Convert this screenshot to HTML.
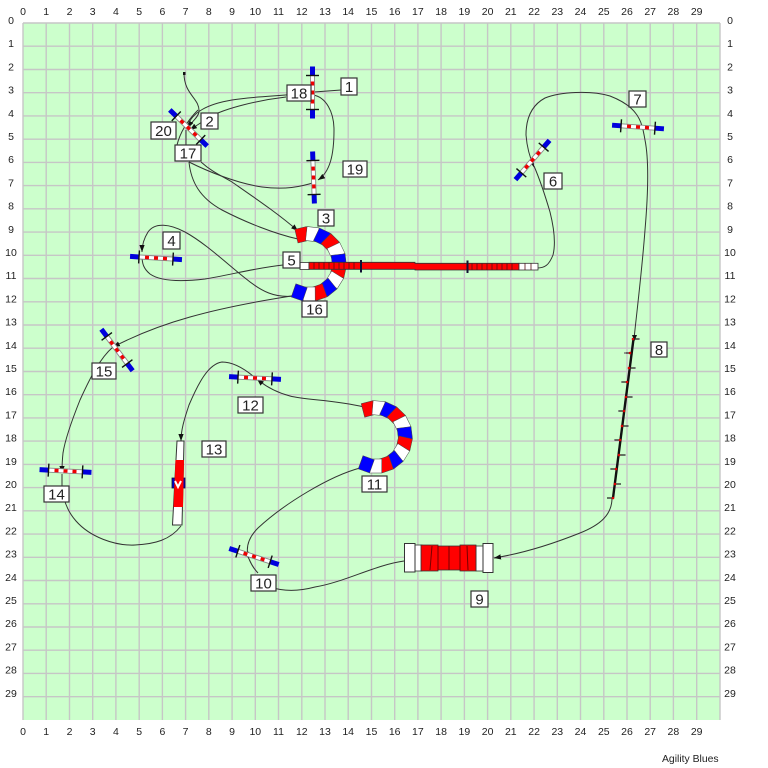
<!DOCTYPE html>
<html>
<head>
<meta charset="utf-8">
<title>Agility Blues</title>
<style>
html,body{margin:0;padding:0;background:#fff;width:768px;height:768px;overflow:hidden}
svg{display:block}
text{font-family:"Liberation Sans",sans-serif}
.ax text{font-size:10.5px;fill:#222;text-anchor:middle}
.cv{fill:none;stroke:#333;stroke-width:1}
.lb rect{fill:#fff;stroke:#333;stroke-width:1.2}
.lb text{font-size:15px;fill:#222;text-anchor:middle}
.seg rect{stroke:#444;stroke-width:.5}
.r{fill:#f00}.w{fill:#fff}.b{fill:#00f}
</style>
</head>
<body>
<svg width="768" height="768" viewBox="0 0 768 768" xmlns="http://www.w3.org/2000/svg">
<defs>
<marker id="a" viewBox="0 0 8 6" refX="8" refY="3" markerWidth="7" markerHeight="6" markerUnits="userSpaceOnUse" orient="auto"><path d="M0 0L8 3L0 6z" fill="#111"/></marker>
<g id="j">
<line x1="-26" x2="-17" stroke="#00d" stroke-width="5"/>
<line x1="17" x2="26" stroke="#00d" stroke-width="5"/>
<line x1="-17" x2="17" stroke="#888" stroke-width="5"/>
<line x1="-17" x2="17" stroke="#fff" stroke-width="3.2"/>
<line x1="-11" x2="-7" stroke="#e00" stroke-width="3.4"/>
<line x1="-2" x2="2" stroke="#e00" stroke-width="3.4"/>
<line x1="7" x2="11" stroke="#e00" stroke-width="3.4"/>
<line x1="-17" x2="-17" y1="-6.5" y2="6.5" stroke="#111" stroke-width="1.4"/>
<line x1="17" x2="17" y1="-6.5" y2="6.5" stroke="#111" stroke-width="1.4"/>
</g>
</defs>
<rect width="768" height="768" fill="#fff"/>
<rect x="23" y="23" width="697" height="697" fill="#ccffcc"/>
<path fill="none" stroke="#c6c6c6" stroke-width="1.4" d="M23 23V720M46.2 23V720M69.5 23V720M92.7 23V720M115.9 23V720M139.2 23V720M162.4 23V720M185.6 23V720M208.8 23V720M232.1 23V720M255.3 23V720M278.5 23V720M301.8 23V720M325 23V720M348.2 23V720M371.5 23V720M394.7 23V720M417.9 23V720M441.1 23V720M464.4 23V720M487.6 23V720M510.8 23V720M534.1 23V720M557.3 23V720M580.5 23V720M603.8 23V720M627 23V720M650.2 23V720M673.4 23V720M696.7 23V720M720 23V720M23 23H720M23 46.2H720M23 69.5H720M23 92.7H720M23 115.9H720M23 139.2H720M23 162.4H720M23 185.6H720M23 208.8H720M23 232.1H720M23 255.3H720M23 278.5H720M23 301.8H720M23 325H720M23 348.2H720M23 371.5H720M23 394.7H720M23 417.9H720M23 441.1H720M23 464.4H720M23 487.6H720M23 510.8H720M23 534.1H720M23 557.3H720M23 580.5H720M23 603.8H720M23 627H720M23 650.2H720M23 673.4H720M23 696.7H720"/>

<g class="ax">
<text x="23" y="15">0</text><text x="46.2" y="15">1</text><text x="69.5" y="15">2</text><text x="92.7" y="15">3</text><text x="115.9" y="15">4</text><text x="139.2" y="15">5</text><text x="162.4" y="15">6</text><text x="185.6" y="15">7</text><text x="208.8" y="15">8</text><text x="232.1" y="15">9</text><text x="255.3" y="15">10</text><text x="278.5" y="15">11</text><text x="301.8" y="15">12</text><text x="325" y="15">13</text><text x="348.2" y="15">14</text><text x="371.5" y="15">15</text><text x="394.7" y="15">16</text><text x="417.9" y="15">17</text><text x="441.1" y="15">18</text><text x="464.4" y="15">19</text><text x="487.6" y="15">20</text><text x="510.8" y="15">21</text><text x="534.1" y="15">22</text><text x="557.3" y="15">23</text><text x="580.5" y="15">24</text><text x="603.8" y="15">25</text><text x="627" y="15">26</text><text x="650.2" y="15">27</text><text x="673.4" y="15">28</text><text x="696.7" y="15">29</text>
<text x="23" y="735">0</text><text x="46.2" y="735">1</text><text x="69.5" y="735">2</text><text x="92.7" y="735">3</text><text x="115.9" y="735">4</text><text x="139.2" y="735">5</text><text x="162.4" y="735">6</text><text x="185.6" y="735">7</text><text x="208.8" y="735">8</text><text x="232.1" y="735">9</text><text x="255.3" y="735">10</text><text x="278.5" y="735">11</text><text x="301.8" y="735">12</text><text x="325" y="735">13</text><text x="348.2" y="735">14</text><text x="371.5" y="735">15</text><text x="394.7" y="735">16</text><text x="417.9" y="735">17</text><text x="441.1" y="735">18</text><text x="464.4" y="735">19</text><text x="487.6" y="735">20</text><text x="510.8" y="735">21</text><text x="534.1" y="735">22</text><text x="557.3" y="735">23</text><text x="580.5" y="735">24</text><text x="603.8" y="735">25</text><text x="627" y="735">26</text><text x="650.2" y="735">27</text><text x="673.4" y="735">28</text><text x="696.7" y="735">29</text>
<text x="11" y="24">0</text><text x="11" y="47.2">1</text><text x="11" y="70.4">2</text><text x="11" y="93.6">3</text><text x="11" y="116.8">4</text><text x="11" y="140">5</text><text x="11" y="163.2">6</text><text x="11" y="186.4">7</text><text x="11" y="209.6">8</text><text x="11" y="232.8">9</text><text x="11" y="256">10</text><text x="11" y="279.2">11</text><text x="11" y="302.4">12</text><text x="11" y="325.6">13</text><text x="11" y="348.8">14</text><text x="11" y="372">15</text><text x="11" y="395.2">16</text><text x="11" y="418.4">17</text><text x="11" y="441.6">18</text><text x="11" y="464.8">19</text><text x="11" y="488">20</text><text x="11" y="511.2">21</text><text x="11" y="534.4">22</text><text x="11" y="557.6">23</text><text x="11" y="580.8">24</text><text x="11" y="604">25</text><text x="11" y="627.2">26</text><text x="11" y="650.4">27</text><text x="11" y="673.6">28</text><text x="11" y="696.8">29</text>
<text x="730" y="24">0</text><text x="730" y="47.2">1</text><text x="730" y="70.4">2</text><text x="730" y="93.6">3</text><text x="730" y="116.8">4</text><text x="730" y="140">5</text><text x="730" y="163.2">6</text><text x="730" y="186.4">7</text><text x="730" y="209.6">8</text><text x="730" y="232.8">9</text><text x="730" y="256">10</text><text x="730" y="279.2">11</text><text x="730" y="302.4">12</text><text x="730" y="325.6">13</text><text x="730" y="348.8">14</text><text x="730" y="372">15</text><text x="730" y="395.2">16</text><text x="730" y="418.4">17</text><text x="730" y="441.6">18</text><text x="730" y="464.8">19</text><text x="730" y="488">20</text><text x="730" y="511.2">21</text><text x="730" y="534.4">22</text><text x="730" y="557.6">23</text><text x="730" y="580.8">24</text><text x="730" y="604">25</text><text x="730" y="627.2">26</text><text x="730" y="650.4">27</text><text x="730" y="673.6">28</text><text x="730" y="696.8">29</text>
</g>
<text x="662" y="762" font-size="10.4" fill="#222">Agility Blues</text>

<!-- connectors -->
<g class="cv">
<path d="M184 73C184 95 200 98 199 112C198 118 191 122 188 128" marker-end="url(#a)"/>
<rect x="183" y="72" width="2.5" height="3" fill="#111" stroke="none"/>
<path d="M187 127C192 112 208 104 232 100C255 96 290 96 312 92"/>
<path d="M286 97C260 100 225 108 210 117C202 122 197 125 190 130" marker-end="url(#a)"/>
<path d="M314 92L341 90"/>
<path d="M177 145C180 133 186 122 198 110"/>
<path d="M186 145L186 130"/>
<path d="M313 95C326 97 334 112 334 130C334 155 330 172 318 180" marker-end="url(#a)"/>
<path d="M189 162C205 170 235 183 262 187C285 190 300 187 316 182"/>
<path d="M201 162C212 172 222 176 232 182C255 198 280 215 298 231" marker-end="url(#a)"/>
<path d="M189 162C191 182 200 198 222 210C245 222 275 234 298 239"/>
<path d="M294 296C275 298 262 292 245 278C225 262 205 243 185 232C170 224 155 222 148 232C143 240 142 246 142 252" marker-end="url(#a)"/>
<path d="M283 265C255 268 230 275 205 279C180 282 160 281 150 274C144 269 142 264 142 256"/>
<path d="M298 295C265 300 225 307 190 317C165 324 140 333 113 347" marker-end="url(#a)"/>
<path d="M113 347C100 358 90 378 80 400C72 420 65 440 63 453C62 462 62 468 62 473" marker-end="url(#a)"/>
<path d="M62 474L62 486C63 500 68 512 76 521C90 537 115 546 135 545C155 544 170 540 181 526"/>
<path d="M253 376C242 367 232 362 222 362C208 364 198 384 189 405C184 420 181 430 181 441" marker-end="url(#a)"/>
<path d="M364 407C335 400 305 400 290 396C275 392 265 386 257 379" marker-end="url(#a)"/>
<path d="M360 468C330 476 285 503 258 528C248 538 245 548 249 559" marker-end="url(#a)"/>
<path d="M249 559C252 566 255 570 258 573"/>
<path d="M404 561C375 565 345 582 315 587C300 591 285 592 270 587"/>
<path d="M612 498C612 515 600 525 580 533C555 543 525 553 494 558" marker-end="url(#a)"/>
<path d="M634 339C637 310 642 270 645 230C648 195 649 160 645 140C644 134 643 130 642 125"/>
<path d="M642 126C638 112 628 103 610 96C590 90 560 92 545 98C532 105 526 118 526 135C527 148 530 158 534 167" marker-end="url(#a)"/>
<path d="M534 166C540 180 545 195 550 212C554 228 556 243 553 255C549 265 545 268 537 268"/>
</g>

<!-- jumps -->
<use href="#j" transform="translate(312.5 92.5) rotate(90)"/>
<use href="#j" transform="translate(188.5 128) rotate(44)"/>
<use href="#j" transform="translate(313.5 177.5) rotate(88)"/>
<use href="#j" transform="translate(156 258) rotate(3.5)"/>
<use href="#j" transform="translate(532.5 160) rotate(-49)"/>
<use href="#j" transform="translate(638 127) rotate(4)"/>
<use href="#j" transform="translate(255 378) rotate(3)"/>
<use href="#j" transform="translate(65.5 471) rotate(3)"/>
<use href="#j" transform="translate(117 350) rotate(53)"/>
<use href="#j" transform="translate(254 556.5) rotate(18)"/>

<!-- curved tunnel 3/16 -->
<g class="seg" transform="translate(309 264)">
<rect class="r" x="23" y="-6" width="14" height="12" transform="rotate(-103)"/>
<rect class="w" x="23" y="-6" width="14" height="12" transform="rotate(-83.7)"/>
<rect class="b" x="23" y="-6" width="14" height="12" transform="rotate(-64.5)"/>
<rect class="r" x="23" y="-6" width="14" height="12" transform="rotate(-45.2)"/>
<rect class="w" x="23" y="-6" width="14" height="12" transform="rotate(-25.9)"/>
<rect class="b" x="23" y="-6" width="14" height="12" transform="rotate(-6.7)"/>
<rect class="r" x="23" y="-6" width="14" height="12" transform="rotate(12.6)"/>
<rect class="w" x="23" y="-6" width="14" height="12" transform="rotate(31.9)"/>
<rect class="b" x="23" y="-6" width="14" height="12" transform="rotate(51.2)"/>
<rect class="r" x="23" y="-6" width="14" height="12" transform="rotate(70.4)"/>
<rect class="w" x="23" y="-6" width="14" height="12" transform="rotate(89.7)"/>
<rect class="b" x="23" y="-6" width="14" height="12" transform="rotate(109)"/>
</g>

<!-- straight tunnel 5 -->
<rect x="300" y="262.5" width="9" height="7" fill="#fff" stroke="#333" stroke-width=".8"/>
<polygon points="309,262.3 415,262.3 415,263.3 519,263.3 519,270 415,270 415,269.3 309,269.3" fill="#f00" stroke="#333" stroke-width=".8"/>
<rect x="519" y="263.3" width="19" height="6.7" fill="#fff" stroke="#333" stroke-width=".8"/>
<path d="M314 262.5V269M319 262.5V269M324 262.5V269M329 262.5V269M334 262.5V269M339 262.5V269M344 262.5V269M349 262.5V269M354 262.5V269M472 263.5V270M477 263.5V270M482 263.5V270M487 263.5V270M492 263.5V270M497 263.5V270M502 263.5V270M507 263.5V270M512 263.5V270M525 263.5V270M531 263.5V270" stroke="#511" stroke-width=".8" fill="none"/>
<rect x="360" y="260" width="2" height="12.5" fill="#113"/>
<rect x="466.5" y="260.5" width="2" height="12.5" fill="#113"/>

<!-- curved tunnel 11 -->
<g class="seg" transform="translate(376 437)">
<rect class="r" x="22" y="-6" width="14" height="12" transform="rotate(-104.5)"/>
<rect class="w" x="22" y="-6" width="14" height="12" transform="rotate(-85)"/>
<rect class="b" x="22" y="-6" width="14" height="12" transform="rotate(-65.5)"/>
<rect class="r" x="22" y="-6" width="14" height="12" transform="rotate(-46)"/>
<rect class="w" x="22" y="-6" width="14" height="12" transform="rotate(-26.6)"/>
<rect class="b" x="22" y="-6" width="14" height="12" transform="rotate(-7)"/>
<rect class="r" x="22" y="-6" width="14" height="12" transform="rotate(12.5)"/>
<rect class="w" x="22" y="-6" width="14" height="12" transform="rotate(32)"/>
<rect class="b" x="22" y="-6" width="14" height="12" transform="rotate(51.5)"/>
<rect class="r" x="22" y="-6" width="14" height="12" transform="rotate(71)"/>
<rect class="w" x="22" y="-6" width="14" height="12" transform="rotate(90.5)"/>
<rect class="b" x="22" y="-6" width="14" height="12" transform="rotate(109.6)"/>
</g>

<!-- collapsed tunnel 9 -->
<rect x="415" y="545" width="7" height="26" fill="#fff" stroke="#333" stroke-width=".8"/>
<rect x="476" y="546" width="8" height="25" fill="#fff" stroke="#333" stroke-width=".8"/>
<polygon points="421,545 438,545 438,546 460,546 460,545 476,545 476,571 460,571 460,570 438,570 438,571 421,571" fill="#f00" stroke="#333" stroke-width=".8"/>
<path d="M432 546L430 570M438 546V570M449 546V570M460 546V570M467 546L468 570" stroke="#700" stroke-width="1" fill="none"/>
<rect x="404.5" y="543.5" width="10.5" height="28.5" fill="#fff" stroke="#333" stroke-width="1"/>
<rect x="483" y="543.5" width="10" height="29" fill="#fff" stroke="#333" stroke-width="1"/>

<!-- weave poles 8 -->
<g>
<line x1="633.5" y1="339" x2="613" y2="498" stroke="#111" stroke-width="2.4"/>
<polygon points="632,335 637,335 634.5,341" fill="#111"/>
<path d="M633 339H639M630 353H624M629 368H635M627 382H621M626 397H632M624 411H618M622 426H628M620 440H614M619 455H625M616 469H610M615 484H621M613 498H607" stroke="#222" stroke-width="1.3" fill="none"/>
<path d="M639 339H640M624 353H626M635 368H636M621 382H622M632 397H633M618 411H619M628 426H629M614 440H615M625 455H626M610 469H611" stroke="#888" stroke-width="1.5" fill="none"/>
<g fill="#d00"><circle cx="633" cy="339" r="1.3"/><circle cx="630" cy="353" r="1.3"/><circle cx="629" cy="368" r="1.3"/><circle cx="627" cy="382" r="1.3"/><circle cx="626" cy="397" r="1.3"/><circle cx="624" cy="411" r="1.3"/><circle cx="622" cy="426" r="1.3"/><circle cx="620" cy="440" r="1.3"/><circle cx="619" cy="455" r="1.3"/><circle cx="616" cy="469" r="1.3"/><circle cx="615" cy="484" r="1.3"/><circle cx="613" cy="498" r="1.3"/></g>
</g>

<!-- A-frame 13 -->
<rect x="172" y="478" width="13" height="10" fill="#00c" stroke="#113" stroke-width=".8"/>
<polygon points="177,441 184,441 182,525 172.5,525" fill="#fff" stroke="#333" stroke-width="1"/>
<polygon points="175.5,460 184,460 183,507 173.5,507" fill="#f00"/>
<path d="M175 481L178 487L181 481" fill="none" stroke="#fff" stroke-width="2"/>

<!-- labels -->
<g class="lb">
<rect x="341" y="78" width="16" height="17"/><text x="349" y="92">1</text>
<rect x="287" y="85" width="24" height="16"/><text x="299" y="98.5">18</text>
<rect x="201" y="113" width="17" height="16"/><text x="209.5" y="126.5">2</text>
<rect x="151" y="122" width="25" height="17"/><text x="163.5" y="136">20</text>
<rect x="175" y="145" width="26" height="16"/><text x="188" y="158.5">17</text>
<rect x="343" y="161" width="24" height="16"/><text x="355" y="174.5">19</text>
<rect x="318" y="210" width="16" height="16"/><text x="326" y="223.5">3</text>
<rect x="163" y="232" width="17" height="17"/><text x="171.5" y="246">4</text>
<rect x="283" y="252" width="17" height="16"/><text x="291.5" y="265.5">5</text>
<rect x="302" y="301" width="25" height="16"/><text x="314.5" y="314.5">16</text>
<rect x="544" y="173" width="18" height="16"/><text x="553" y="186.5">6</text>
<rect x="629" y="91" width="17" height="16"/><text x="637.5" y="104.5">7</text>
<rect x="651" y="342" width="16" height="15"/><text x="659" y="355">8</text>
<rect x="471" y="591" width="17" height="16"/><text x="479.5" y="604.5">9</text>
<rect x="251" y="575" width="25" height="16"/><text x="263.5" y="588.5">10</text>
<rect x="362" y="476" width="25" height="16"/><text x="374.5" y="489.5">11</text>
<rect x="238" y="397" width="25" height="16"/><text x="250.5" y="410.5">12</text>
<rect x="202" y="441" width="24" height="16"/><text x="214" y="454.5">13</text>
<rect x="44" y="486" width="25" height="16"/><text x="56.5" y="499.5">14</text>
<rect x="92" y="363" width="24" height="16"/><text x="104" y="376.5">15</text>
</g>
</svg>
</body>
</html>
